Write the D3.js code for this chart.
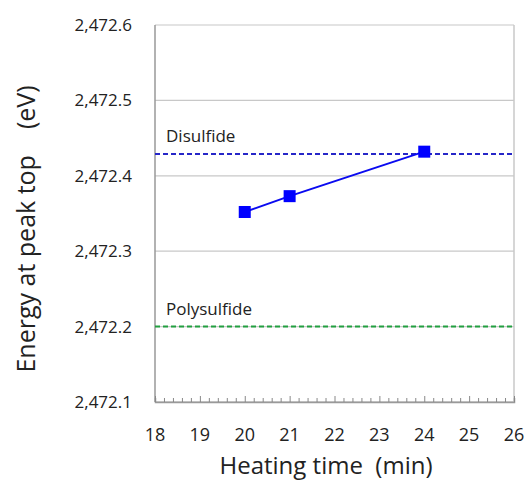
<!DOCTYPE html>
<html>
<head>
<meta charset="utf-8">
<script src="https://cdn.jsdelivr.net/npm/d3@7"></script>
<style>
body { margin: 0; background: #fff; }
text { font-family: "Open Sans", "Noto Sans", sans-serif; fill: #222; }
</style>
</head>
<body>
<div id="chart"></div>
<script>
var heatTime = [20, 21, 24];
var peakEnergy = [2472.352, 2472.373, 2472.432];
var refNames = ["Disulfide", "Polysulfide"];
var refEnergy = [2472.429, 2472.2];
var xTicks = [18, 19, 20, 21, 22, 23, 24, 25, 26];
var yTicks = [2472.1, 2472.2, 2472.3, 2472.4, 2472.5, 2472.6];

var width = 526, height = 483;
var margin = {left: 155, right: 12, top: 25, bottom: 81};

var svg = d3.select("#chart").append("svg")
    .attr("width", width)
    .attr("height", height);

var x = d3.scaleLinear().domain([18, 26]).range([margin.left, width - margin.right]);
var y = d3.scaleLinear().domain([2472.1, 2472.6]).range([height - margin.bottom, margin.top]);
var fmt = function(d) { return d3.format(",.1f")(d); };

// grid lines
svg.append("g")
    .selectAll("line")
    .data(yTicks)
    .enter().append("line")
    .attr("x1", x(18)).attr("x2", x(26))
    .attr("y1", function(d) { return y(d); })
    .attr("y2", function(d) { return y(d); })
    .attr("stroke", function(d) { return d == 2472.1 ? "#999" : "#c8c8c8"; })
    .attr("stroke-width", 1.2);

// frame left / right
svg.append("line").attr("x1", x(18)).attr("x2", x(18)).attr("y1", y(2472.6)).attr("y2", y(2472.1))
    .attr("stroke", "#999").attr("stroke-width", 1.5);
svg.append("line").attr("x1", x(26)).attr("x2", x(26)).attr("y1", y(2472.6)).attr("y2", y(2472.1))
    .attr("stroke", "#c8c8c8").attr("stroke-width", 1.5);

// x axis with inner ticks
var xAxis = svg.append("g")
    .attr("transform", "translate(0," + y(2472.1) + ")")
    .call(d3.axisBottom(x).tickValues(d3.range(18, 26.01, 0.2)).tickSize(-4).tickFormat(""));
xAxis.select(".domain").attr("stroke", "#999").attr("stroke-width", 1.5);
xAxis.selectAll(".tick line").attr("stroke", "#888");
xAxis.selectAll(".tick")
    .filter(function(d) { return Math.abs(d - Math.round(d)) < 1e-6; })
    .select("line").attr("y2", -6);

svg.append("g")
    .selectAll("text")
    .data(xTicks)
    .enter().append("text")
    .attr("x", function(d) { return x(d); })
    .attr("y", 441)
    .attr("text-anchor", "middle")
    .style("font-size", "18px")
    .text(function(d) { return d; });

svg.append("g")
    .selectAll("text")
    .data(yTicks)
    .enter().append("text")
    .attr("x", 132)
    .attr("y", function(d) { return y(d) + 6; })
    .attr("text-anchor", "end")
    .style("font-size", "17px")
    .text(fmt);

// reference lines
var refColor = ["#2626c8", "#22a040"];
svg.append("g")
    .selectAll("line")
    .data(refEnergy)
    .enter().append("line")
    .attr("x1", x(18)).attr("x2", x(26))
    .attr("y1", function(d) { return y(d); })
    .attr("y2", function(d) { return y(d); })
    .attr("stroke", function(d, i) { return refColor[i]; })
    .attr("stroke-width", 2)
    .attr("stroke-dasharray", "5,3");

svg.append("g")
    .selectAll("text")
    .data(refNames)
    .enter().append("text")
    .attr("x", 166)
    .attr("y", function(d, i) { return y(refEnergy[i]) - 12; })
    .style("font-size", "17px")
    .text(function(d) { return d; });

// data series
var pts = heatTime.map(function(t, i) { return [t, peakEnergy[i]]; });
svg.append("path")
    .datum(pts)
    .attr("fill", "none")
    .attr("stroke", "#0a0af0")
    .attr("stroke-width", 2)
    .attr("d", d3.line().x(function(d) { return x(d[0]); }).y(function(d) { return y(d[1]); }));

var s = 12;
svg.append("g")
    .selectAll("rect")
    .data(pts)
    .enter().append("rect")
    .attr("x", function(d) { return x(d[0]) - s / 2; })
    .attr("y", function(d) { return y(d[1]) - s / 2; })
    .attr("width", s).attr("height", s)
    .attr("fill", "#0000ff");

// axis titles
svg.append("text")
    .attr("x", 326).attr("y", 474)
    .attr("text-anchor", "middle")
    .style("font-size", "24px")
    .attr("xml:space", "preserve")
    .text("Heating time  (min)");

svg.append("text")
    .attr("transform", "translate(35," + 229 + ") rotate(-90)")
    .attr("text-anchor", "middle")
    .style("font-size", "25px")
    .attr("xml:space", "preserve")
    .text("Energy at peak top    (eV)");
</script>
</body>
</html>
